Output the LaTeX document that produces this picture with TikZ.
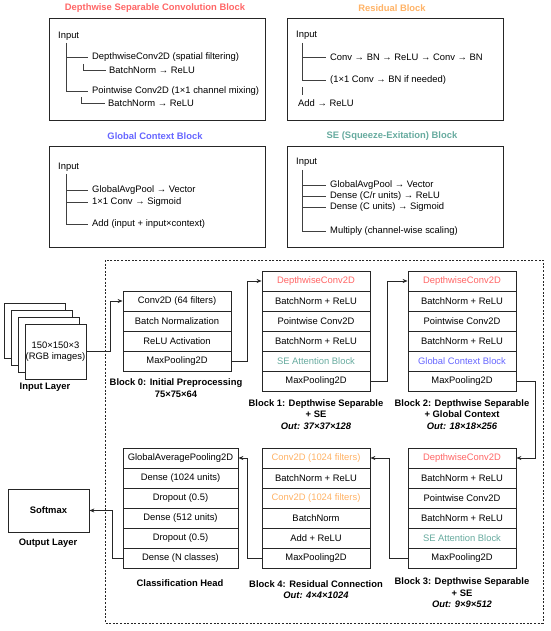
\documentclass[tikz,border=0pt]{standalone}
\usepackage{fontspec}
\setmainfont{Liberation Sans}
\usetikzlibrary{arrows.meta}
\definecolor{cred}{HTML}{FF6666}
\definecolor{corange}{HTML}{FFB366}
\definecolor{cblue}{HTML}{6666FF}
\definecolor{cteal}{HTML}{67AB9F}
\begin{document}
\begin{tikzpicture}[x=1pt,y=-1pt,
  every node/.style={font=\fontsize{9.4}{11.5}\selectfont},
  row/.style={draw=black!85, line width=0.8pt, fill=white, minimum width=108pt, minimum height=20pt, inner sep=0pt},
  hrow/.style={row, minimum width=115pt},
  panel/.style={draw=black!85, line width=0.8pt, minimum width=216pt, inner sep=0pt},
  ptitle/.style={font=\fontsize{9.4}{11.5}\selectfont\bfseries},
  ttext/.style={anchor=west, inner sep=0pt},
  tree/.style={draw=black!75, line width=0.6pt},
  lbl/.style={align=center, font=\fontsize{9.4}{11.5}\selectfont\bfseries},
  img/.style={draw=black!85, line width=0.8pt, fill=white, minimum width=61pt, minimum height=55pt, inner sep=0pt, align=center},
  arr/.style={draw=black!85, line width=0.8pt, -{Stealth[length=5pt,width=4pt]}},
  frame/.style={draw=black!85, line width=0.9pt, dash pattern=on 2pt off 1.6pt}
]
\useasboundingbox[fill=white] (0,0) rectangle (550,631);

% ---------- Depthwise Separable Convolution Block panel
\node[ptitle, text=cred] (t1) at (155,8) {Depthwise Separable Convolution Block};
\node[panel, minimum height=102pt] (p1) at (157,69) {};
\node[ttext] (p1in) at (58,36) {Input};
\draw[tree] (66,43) -- (66,91) -- (88,91);
\draw[tree] (66,57) -- (88,57);
\draw[tree] (83,64) -- (83,70) -- (106,70);
\draw[tree] (81,97) -- (81,103) -- (105,103);
\node[ttext] (p1a) at (92,57) {DepthwiseConv2D (spatial filtering)};
\node[ttext] (p1b) at (109,70) {BatchNorm → ReLU};
\node[ttext] (p1c) at (92,91) {Pointwise Conv2D (1×1 channel mixing)};
\node[ttext] (p1d) at (108,103) {BatchNorm → ReLU};

% ---------- Residual Block panel
\node[ptitle, text=corange] (t2) at (392,8) {Residual Block};
\node[panel, minimum height=102pt] (p2) at (395,69) {};
\node[ttext] (p2in) at (296,35) {Input};
\draw[tree] (302,43) -- (302,80) -- (326,80);
\draw[tree] (302,57) -- (326,57);
\draw[tree] (302,87) -- (302,95);
\node[ttext] (p2a) at (330,57) {Conv → BN → ReLU → Conv → BN};
\node[ttext] (p2b) at (330,80) {(1×1 Conv → BN if needed)};
\node[ttext] (p2c) at (298,103) {Add → ReLU};

% ---------- Global Context Block panel
\node[ptitle, text=cblue] (t3) at (155,136) {Global Context Block};
\node[panel, minimum height=101pt] (p3) at (157,196.5) {};
\node[ttext] (p3in) at (58,167) {Input};
\draw[tree] (66,174) -- (66,224) -- (88,224);
\draw[tree] (66,190) -- (88,190);
\draw[tree] (66,202) -- (88,202);
\node[ttext] (p3a) at (92,190) {GlobalAvgPool → Vector};
\node[ttext] (p3b) at (92,202) {1×1 Conv → Sigmoid};
\node[ttext] (p3c) at (92,224) {Add (input + input×context)};

% ---------- SE Block panel
\node[ptitle, text=cteal] (t4) at (392,136) {SE (Squeeze-Exitation) Block};
\node[panel, minimum height=101pt] (p4) at (395,196.5) {};
\node[ttext] (p4in) at (296,162) {Input};
\draw[tree] (302,170) -- (302,231) -- (326,231);
\draw[tree] (302,185) -- (326,185);
\draw[tree] (302,196) -- (326,196);
\draw[tree] (302,207) -- (326,207);
\node[ttext] (p4a) at (330,185) {GlobalAvgPool → Vector};
\node[ttext] (p4b) at (330,196) {Dense (C/r units) → ReLU};
\node[ttext] (p4c) at (330,207) {Dense (C units) → Sigmoid};
\node[ttext] (p4d) at (330,231) {Multiply (channel-wise scaling)};

% ---------- dotted frame
\draw[frame] (105,260) rectangle (543,623);

% ---------- Input layer
\node[img] (in1) at (34.5,330.5) {};
\node[img] (in2) at (41.5,337.5) {};
\node[img] (in3) at (48.5,344.5) {};
\node[img] (in4) at (55.5,351.5) {150×150×3\\(RGB images)};
\node[lbl] (inl) at (45,387) {Input Layer};

% ---------- Block 0
\node[row] (b0r1) at (177,301) {Conv2D (64 filters)};
\node[row] (b0r2) at (177,321) {Batch Normalization};
\node[row] (b0r3) at (177,341) {ReLU Activation};
\node[row] (b0r4) at (177,361) {MaxPooling2D};
\node[lbl] (b0l) at (176,388) {Block 0: Initial Preprocessing\\75×75×64};

% ---------- Block 1
\node[row] (b1r1) at (316,281) {\textcolor{cred}{DepthwiseConv2D}};
\node[row] (b1r2) at (316,301) {BatchNorm + ReLU};
\node[row] (b1r3) at (316,321) {Pointwise Conv2D};
\node[row] (b1r4) at (316,341) {BatchNorm + ReLU};
\node[row] (b1r5) at (316,361) {\textcolor{cteal}{SE Attention Block}};
\node[row] (b1r6) at (316,381) {MaxPooling2D};
\node[lbl] (b1l) at (316,414.5) {Block 1: Depthwise Separable\\+ SE\\\itshape Out: 37×37×128};

% ---------- Block 2
\node[row] (b2r1) at (462,281) {\textcolor{cred}{DepthwiseConv2D}};
\node[row] (b2r2) at (462,301) {BatchNorm + ReLU};
\node[row] (b2r3) at (462,321) {Pointwise Conv2D};
\node[row] (b2r4) at (462,341) {BatchNorm + ReLU};
\node[row] (b2r5) at (462,361) {\textcolor{cblue}{Global Context Block}};
\node[row] (b2r6) at (462,381) {MaxPooling2D};
\node[lbl] (b2l) at (462,414.5) {Block 2: Depthwise Separable\\+ Global Context\\\itshape Out: 18×18×256};

% ---------- Block 3
\node[row] (b3r1) at (462,458) {\textcolor{cred}{DepthwiseConv2D}};
\node[row] (b3r2) at (462,478) {BatchNorm + ReLU};
\node[row] (b3r3) at (462,498) {Pointwise Conv2D};
\node[row] (b3r4) at (462,518) {BatchNorm + ReLU};
\node[row] (b3r5) at (462,538) {\textcolor{cteal}{SE Attention Block}};
\node[row] (b3r6) at (462,558) {MaxPooling2D};
\node[lbl] (b3l) at (462,593) {Block 3: Depthwise Separable\\+ SE\\\itshape Out: 9×9×512};

% ---------- Block 4
\node[row] (b4r1) at (316,458) {\textcolor{corange}{Conv2D (1024 filters)}};
\node[row] (b4r2) at (316,478) {BatchNorm + ReLU};
\node[row] (b4r3) at (316,498) {\textcolor{corange}{Conv2D (1024 filters)}};
\node[row] (b4r4) at (316,518) {BatchNorm};
\node[row] (b4r5) at (316,538) {Add + ReLU};
\node[row] (b4r6) at (316,558) {MaxPooling2D};
\node[lbl] (b4l) at (316,589.5) {Block 4: Residual Connection\\\itshape Out: 4×4×1024};

% ---------- Classification head
\node[hrow] (h1) at (180.5,458) {GlobalAveragePooling2D};
\node[hrow] (h2) at (180.5,478) {Dense (1024 units)};
\node[hrow] (h3) at (180.5,498) {Dropout (0.5)};
\node[hrow] (h4) at (180.5,518) {Dense (512 units)};
\node[hrow] (h5) at (180.5,538) {Dropout (0.5)};
\node[hrow] (h6) at (180.5,558) {Dense (N classes)};
\node[lbl] (hl) at (180,583) {Classification Head};

% ---------- Output layer
\node[draw=black!85, line width=0.8pt, minimum width=81pt, minimum height=43pt, inner sep=0pt, font=\fontsize{9.4}{11.5}\selectfont\bfseries] (sm) at (48.5,510.5) {Softmax};
\node[lbl] (outl) at (48,543) {Output Layer};

% ---------- connectors
\draw[arr] (in4.east) -- ++(24,0) |- (b0r1.west);
\draw[arr] (b0r4.east) -- ++(16,0) |- (b1r1.west);
\draw[arr] (b1r6.east) -- ++(17,0) |- (b2r1.west);
\draw[arr] (b2r6.east) -- ++(19,0) |- (b3r1.east);
\draw[arr] (b3r6.west) -- ++(-18,0) |- (b4r1.east);
\draw[arr] (b4r6.west) -- ++(-14,0) |- (h1.east);
\draw[arr] (h6.west) -- ++(-10,0) |- (sm.east);
\end{tikzpicture}
\end{document}
